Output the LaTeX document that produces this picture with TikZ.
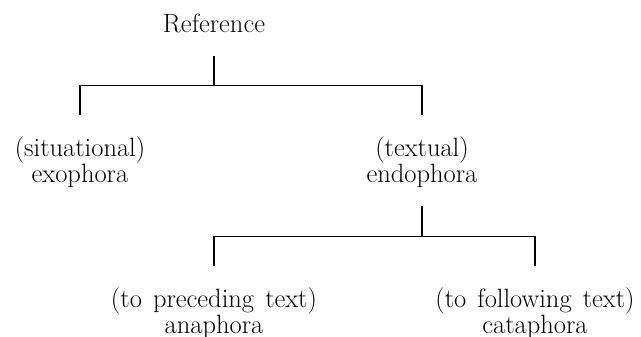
\documentclass[tikz,border=0pt]{standalone}
\begin{document}
\begin{tikzpicture}[x=1pt,y=1pt,
  lbl/.style={inner sep=0pt, align=center,
    font=\fontsize{26.5}{22.5}\selectfont,
    execute at begin node={\spaceskip=0.42em\relax}},
  branch/.style={line width=1.3pt, black}]
\useasboundingbox (0,0) rectangle (641,-337);

% top node
\node[lbl, anchor=base] (ref) at (214,-33) {Reference};

% first level
\node[lbl, anchor=north] (exo) at (80,-136) {(situational)\\exophora};
\node[lbl, anchor=north] (endo) at (422,-136) {(textual)\\endophora};

% second level
\node[lbl, anchor=north] (ana) at (214,-287) {(to preceding text)\\anaphora};
\node[lbl, anchor=north] (cata) at (535,-287) {(to following text)\\cataphora};

% Reference -> exophora / endophora
\draw[branch] ([yshift=-22pt]ref.south) -- ++(0,-30) coordinate (bar1)
  (bar1) -| ([yshift=21pt]exo.north);
\draw[branch] (bar1) -| ([yshift=21pt]endo.north);

% endophora -> anaphora / cataphora
\draw[branch] ([yshift=-19pt]endo.south) -- ++(0,-30) coordinate (bar2)
  (bar2) -| ([yshift=21pt]ana.north);
\draw[branch] (bar2) -| ([yshift=21pt]cata.north);
\end{tikzpicture}
\end{document}
